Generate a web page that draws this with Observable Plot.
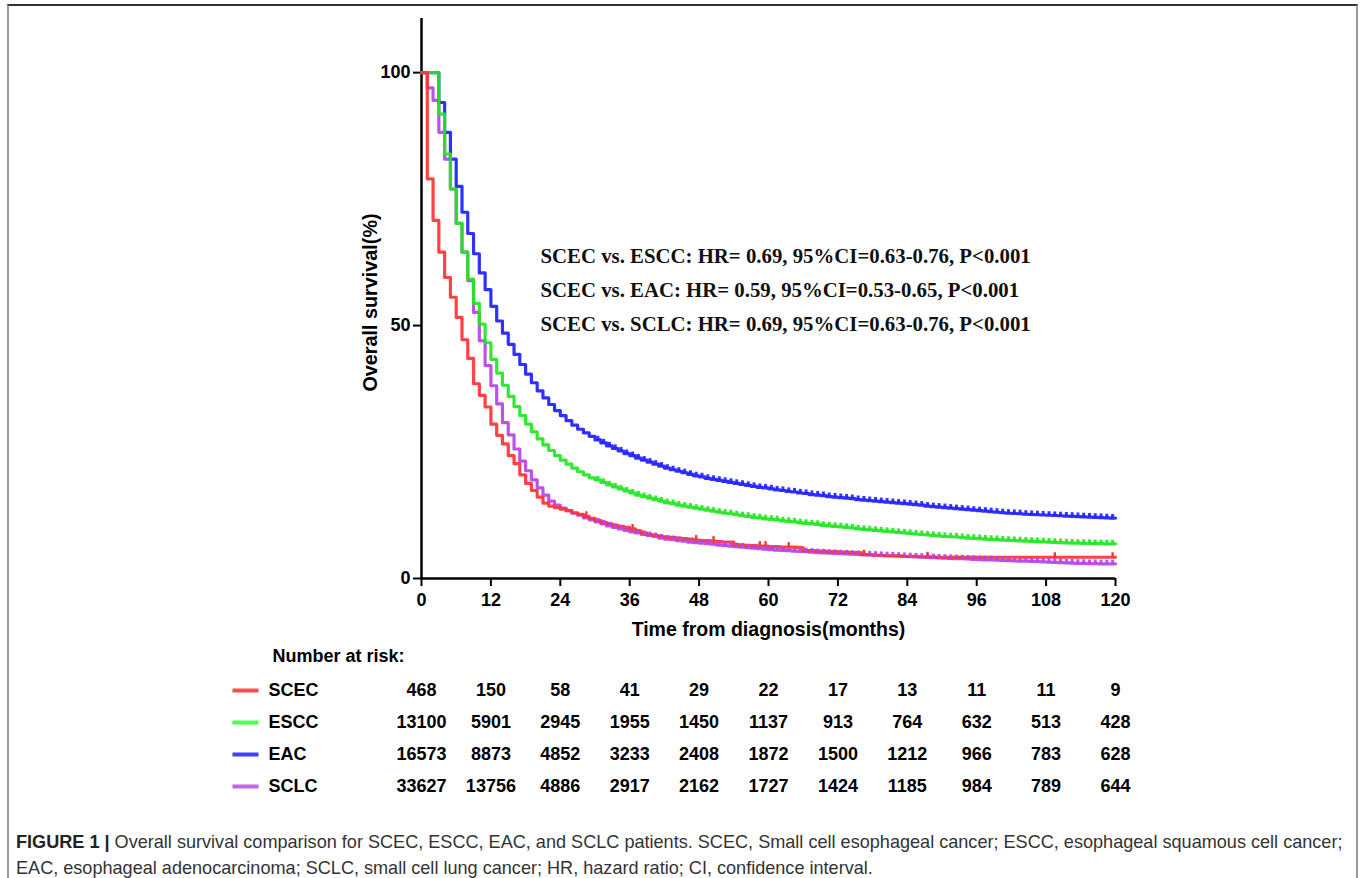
<!DOCTYPE html>
<html>
<head>
<meta charset="utf-8">
<script src="https://cdn.jsdelivr.net/npm/d3@7"></script>
<script src="https://cdn.jsdelivr.net/npm/@observablehq/plot@0.6"></script>
<style>
  html, body { margin: 0; padding: 0; background: #fff; }
  body { width: 1360px; height: 878px; position: relative; overflow: hidden; }
  #frame { position: absolute; left: 7px; top: 4px; width: 1347px; height: 880px;
           border-top: 2px solid #333; border-left: 2px solid #999; border-right: 2px solid #999; }
  #main { position: absolute; left: 0; top: 0; }
  #risk { position: absolute; left: 0; top: 640px; }
  #caption { position: absolute; left: 16px; top: 829px; width: 1336px;
             font-family: "Liberation Sans", Arial, sans-serif; font-size: 18.1px; color: #333;
             line-height: 26px; white-space: nowrap; }
  #caption b { color: #222; }
  svg [aria-label="x-axis tick"], svg [aria-label="y-axis tick"] { stroke-width: 2px; }
</style>
</head>
<body>
<div id="frame"></div>
<div id="main"></div>
<div id="risk"></div>
<div id="caption">
  <div id="cap1"><b>FIGURE 1 |</b> Overall survival comparison for SCEC, ESCC, EAC, and SCLC patients. SCEC, Small cell esophageal cancer; ESCC, esophageal squamous cell cancer;</div>
  <div id="cap2">EAC, esophageal adenocarcinoma; SCLC, small cell lung cancer; HR, hazard ratio; CI, confidence interval.</div>
</div>
<script>
// ---- data ----
const groups = ["SCEC", "ESCC", "EAC", "SCLC"];
const colors = ["#ff3333", "#22e622", "#1f1fff", "#b644e6"];
const swatchColors = ["#ff4d4d", "#4dff4d", "#4040ff", "#c066ee"];

// Kaplan-Meier survival (%) at monthly steps 0..120
const scec = [
  100, 79, 70.8, 64.5, 59.5, 55.6, 51.6, 47.2, 43.5, 38.5,
  36.2, 33.9, 30.5, 28.3, 26.6, 24.3, 22.7, 20.5, 18.8, 17.4,
  16.1, 14.9, 14.3, 14.0, 13.7, 13.4, 13.0, 12.7, 12.3, 11.9,
  11.5, 11.1, 10.8, 10.5, 10.3, 10.1, 9.8, 9.4, 9.0, 8.7,
  8.5, 8.3, 8.2, 8.1, 8.0, 7.9, 7.8, 7.6, 7.5, 7.5,
  7.4, 7.3, 7.2, 7.2, 6.7, 6.6, 6.5, 6.5, 6.4, 6.4,
  6.3, 6.3, 6.2, 6.2, 6.2, 6.1, 5.5, 5.5, 5.4, 5.4,
  5.3, 5.3, 5.2, 5.2, 5.1, 5.1, 4.7, 4.7, 4.6, 4.6,
  4.5, 4.5, 4.5, 4.4, 4.4, 4.4, 4.3, 4.3, 4.3, 4.2,
  4.2, 4.2, 4.2, 4.2, 4.2, 4.2, 4.2, 4.2, 4.2, 4.2,
  4.2, 4.2, 4.2, 4.2, 4.2, 4.2, 4.2, 4.2, 4.2, 4.2,
  4.2, 4.2, 4.2, 4.2, 4.2, 4.2, 4.2, 4.2, 4.2, 4.2, 4.2
];
const escc = [
  100, 100, 100, 91.8, 83.9, 77.0, 70.2, 64.5, 59.2, 54.4,
  50.3, 46.6, 43.3, 40.6, 38.2, 36.0, 34.0, 32.2, 30.5, 29.0,
  27.6, 26.4, 25.3, 24.3, 23.4, 22.6, 21.8, 21.1, 20.5, 19.9,
  19.5, 19.0, 18.5, 18.1, 17.7, 17.3, 16.9, 16.5, 16.2, 15.9,
  15.6, 15.3, 15.0, 14.8, 14.5, 14.3, 14.1, 13.9, 13.7, 13.5,
  13.3, 13.1, 12.9, 12.8, 12.6, 12.4, 12.3, 12.1, 12.0, 11.8,
  11.7, 11.6, 11.4, 11.3, 11.2, 11.0, 10.9, 10.8, 10.7, 10.5,
  10.4, 10.3, 10.2, 10.1, 10.0, 9.8, 9.7, 9.6, 9.5, 9.4,
  9.3, 9.2, 9.1, 9.0, 8.9, 8.8, 8.7, 8.6, 8.5, 8.4,
  8.3, 8.25, 8.2, 8.1, 8.0, 7.95, 7.9, 7.8, 7.75, 7.7,
  7.6, 7.55, 7.5, 7.45, 7.4, 7.35, 7.3, 7.25, 7.2, 7.15,
  7.1, 7.05, 7.0, 6.98, 6.95, 6.92, 6.9, 6.88, 6.86, 6.85, 6.85
];
const eac = [
  100, 100, 100, 94.1, 88.2, 82.9, 77.5, 72.4, 68.2, 64.2,
  60.4, 57.1, 53.8, 50.9, 48.5, 46.3, 44.3, 42.3, 40.4, 38.7,
  37.1, 35.7, 34.4, 33.2, 32.2, 31.2, 30.3, 29.5, 28.8, 28.1,
  27.4, 26.8, 26.2, 25.7, 25.2, 24.7, 24.3, 23.8, 23.4, 23.0,
  22.6, 22.2, 21.8, 21.5, 21.2, 20.9, 20.6, 20.3, 20.1, 19.8,
  19.6, 19.4, 19.2, 19.0, 18.8, 18.6, 18.4, 18.2, 18.0, 17.9,
  17.7, 17.5, 17.4, 17.2, 17.1, 16.9, 16.8, 16.6, 16.5, 16.4,
  16.2, 16.1, 16.0, 15.9, 15.8, 15.6, 15.5, 15.4, 15.3, 15.2,
  15.1, 15.0, 14.9, 14.8, 14.7, 14.6, 14.5, 14.3, 14.2, 14.1,
  14.0, 13.9, 13.8, 13.7, 13.6, 13.5, 13.4, 13.3, 13.2, 13.1,
  13.0, 12.9, 12.85, 12.8, 12.7, 12.65, 12.6, 12.55, 12.5, 12.45,
  12.4, 12.35, 12.3, 12.25, 12.2, 12.15, 12.1, 12.05, 12.0, 11.95, 11.95
];
const sclc = [
  100, 97, 94.5, 88.2, 82.9, 77.0, 70.2, 64.5, 58.9, 52.6,
  47.0, 42.1, 38.1, 34.5, 30.8, 28.4, 25.6, 23.2, 21.3, 19.5,
  17.9, 16.5, 15.3, 14.5, 13.9, 13.4, 12.9, 12.5, 12.0, 11.6,
  11.2, 10.8, 10.4, 10.1, 9.8, 9.5, 9.2, 9.0, 8.7, 8.5,
  8.3, 8.0, 7.8, 7.7, 7.5, 7.4, 7.2, 7.1, 7.0, 6.9,
  6.8, 6.6, 6.5, 6.4, 6.3, 6.2, 6.1, 6.0, 5.9, 5.8,
  5.7, 5.6, 5.55, 5.5, 5.4, 5.35, 5.3, 5.2, 5.1, 5.05,
  5.0, 4.95, 4.9, 4.85, 4.8, 4.75, 4.7, 4.65, 4.6, 4.55,
  4.5, 4.45, 4.4, 4.35, 4.3, 4.25, 4.2, 4.15, 4.1, 4.05,
  4.0, 3.95, 3.9, 3.9, 3.85, 3.8, 3.75, 3.7, 3.7, 3.65,
  3.6, 3.55, 3.5, 3.45, 3.45, 3.4, 3.35, 3.3, 3.25, 3.2,
  3.15, 3.1, 3.05, 3.0, 3.0, 2.95, 2.95, 2.9, 2.9, 2.9, 2.9
];
// SCEC censoring marks (months)
const scecCensor = [28, 36, 47, 50, 58, 59, 63, 76, 87, 109, 119];

// Number at risk
const riskTimes = [0, 12, 24, 36, 48, 60, 72, 84, 96, 108, 120];
const riskSCEC = [468, 150, 58, 41, 29, 22, 17, 13, 11, 11, 9];
const riskESCC = [13100, 5901, 2945, 1955, 1450, 1137, 913, 764, 632, 513, 428];
const riskEAC  = [16573, 8873, 4852, 3233, 2408, 1872, 1500, 1212, 966, 783, 628];
const riskSCLC = [33627, 13756, 4886, 2917, 2162, 1727, 1424, 1185, 984, 789, 644];

const annotations = [
  "SCEC vs. ESCC: HR= 0.69, 95%CI=0.63-0.76, P<0.001",
  "SCEC vs. EAC: HR= 0.59, 95%CI=0.53-0.65, P<0.001",
  "SCEC vs. SCLC: HR= 0.69, 95%CI=0.63-0.76, P<0.001"
];

// ---- build tables ----
const seriesValues = [scec, escc, eac, sclc];
const drawOrder = ["SCLC", "EAC", "ESCC", "SCEC"]; // bottom to top, as in the figure
const km = [];
drawOrder.forEach(g => { const gi = groups.indexOf(g); seriesValues[gi].forEach((v, m) => km.push({group: g, month: m, surv: v})); });
const censorBGP = km.filter(d => d.group !== "SCEC" && d.month >= 30 && d.month < 120);
const censorRed = scecCensor.map(m => ({group: "SCEC", month: m, surv: scec[m]}));

const riskRows = [riskSCEC, riskESCC, riskEAC, riskSCLC];
const risk = [];
riskRows.forEach((vals, gi) => vals.forEach((n, i) => risk.push({group: groups[gi], time: riskTimes[i], n})));

const vtick = { draw(ctx, size) { const h = Math.sqrt(size); ctx.moveTo(0, 0); ctx.lineTo(0, -h); } };
const hline = { draw(ctx, size) { const w = Math.sqrt(size); ctx.moveTo(-w / 2, 0); ctx.lineTo(w / 2, 0); } };

const colorScale = {domain: groups, range: colors};

const main = Plot.plot({
  width: 1360, height: 645,
  marginLeft: 421, marginRight: 245, marginTop: 18, marginBottom: 67,
  style: {fontFamily: "'Liberation Sans', Arial, sans-serif", fontSize: "18px", fontWeight: "bold", color: "#000", background: "transparent"},
  x: {domain: [0, 120], ticks: riskTimes, tickSize: 8, tickPadding: 7, label: null},
  y: {domain: [0, 110.7], ticks: [0, 50, 100], tickSize: 8, tickPadding: 3, label: null},
  color: colorScale,
  marks: [
    Plot.ruleX([0], {stroke: "#000", strokeWidth: 2.5}),
    Plot.ruleY([0], {stroke: "#000", strokeWidth: 2.5}),
    Plot.line(km, {x: "month", y: "surv", z: "group", stroke: "group", curve: "step-after", strokeWidth: 3.2, strokeOpacity: 0.92}),
    Plot.dot(censorBGP, {x: d => d.month + 0.5, y: "surv", stroke: "group", symbol: vtick, r: 2.3, strokeWidth: 3, strokeOpacity: 0.9}),
    Plot.dot(censorRed, {x: d => d.month + 0.5, y: "surv", stroke: "group", symbol: vtick, r: 2.8, strokeWidth: 2.4}),
    Plot.text(["Overall survival(%)"], {frameAnchor: "left", textAnchor: "middle", dx: -51, dy: 4, rotate: -90, fontSize: 19.8, fill: "#000"}),
    Plot.text(["Time from diagnosis(months)"], {frameAnchor: "bottom", dy: 57, fontSize: 19.5, fill: "#000"}),
    Plot.text([annotations.join("\n")], {frameAnchor: "top-left", dx: 119, dy: 221, lineHeight: 1.62, textAnchor: "start",
      fontFamily: "'Liberation Serif', 'Times New Roman', serif", fontSize: 20.8, fontWeight: "bold", fill: "#111"})
  ]
});
document.getElementById("main").appendChild(main);

const riskPlot = Plot.plot({
  width: 1360, height: 170,
  marginLeft: 421, marginRight: 245, marginTop: 34, marginBottom: 8,
  style: {fontFamily: "'Liberation Sans', Arial, sans-serif", fontSize: "18px", fontWeight: "bold", color: "#000", background: "transparent"},
  x: {domain: [0, 120], axis: null},
  y: {type: "point", domain: groups, axis: null, padding: 0.5},
  color: {domain: groups, range: swatchColors},
  marks: [
    Plot.text(["Number at risk:"], {frameAnchor: "top-left", dx: -149, dy: -18, lineAnchor: "middle", textAnchor: "start", fill: "#000"}),
    Plot.dot(groups, {y: d => d, frameAnchor: "left", dx: -176, symbol: hline, r: 14.7, stroke: d => d, strokeWidth: 4}),
    Plot.text(groups, {y: d => d, text: d => d, frameAnchor: "left", dx: -153, textAnchor: "start", fill: "#000"}),
    Plot.text(risk, {x: "time", y: "group", text: d => String(d.n), textAnchor: "middle", fill: "#000"})
  ]
});
document.getElementById("risk").appendChild(riskPlot);
</script>
</body>
</html>
